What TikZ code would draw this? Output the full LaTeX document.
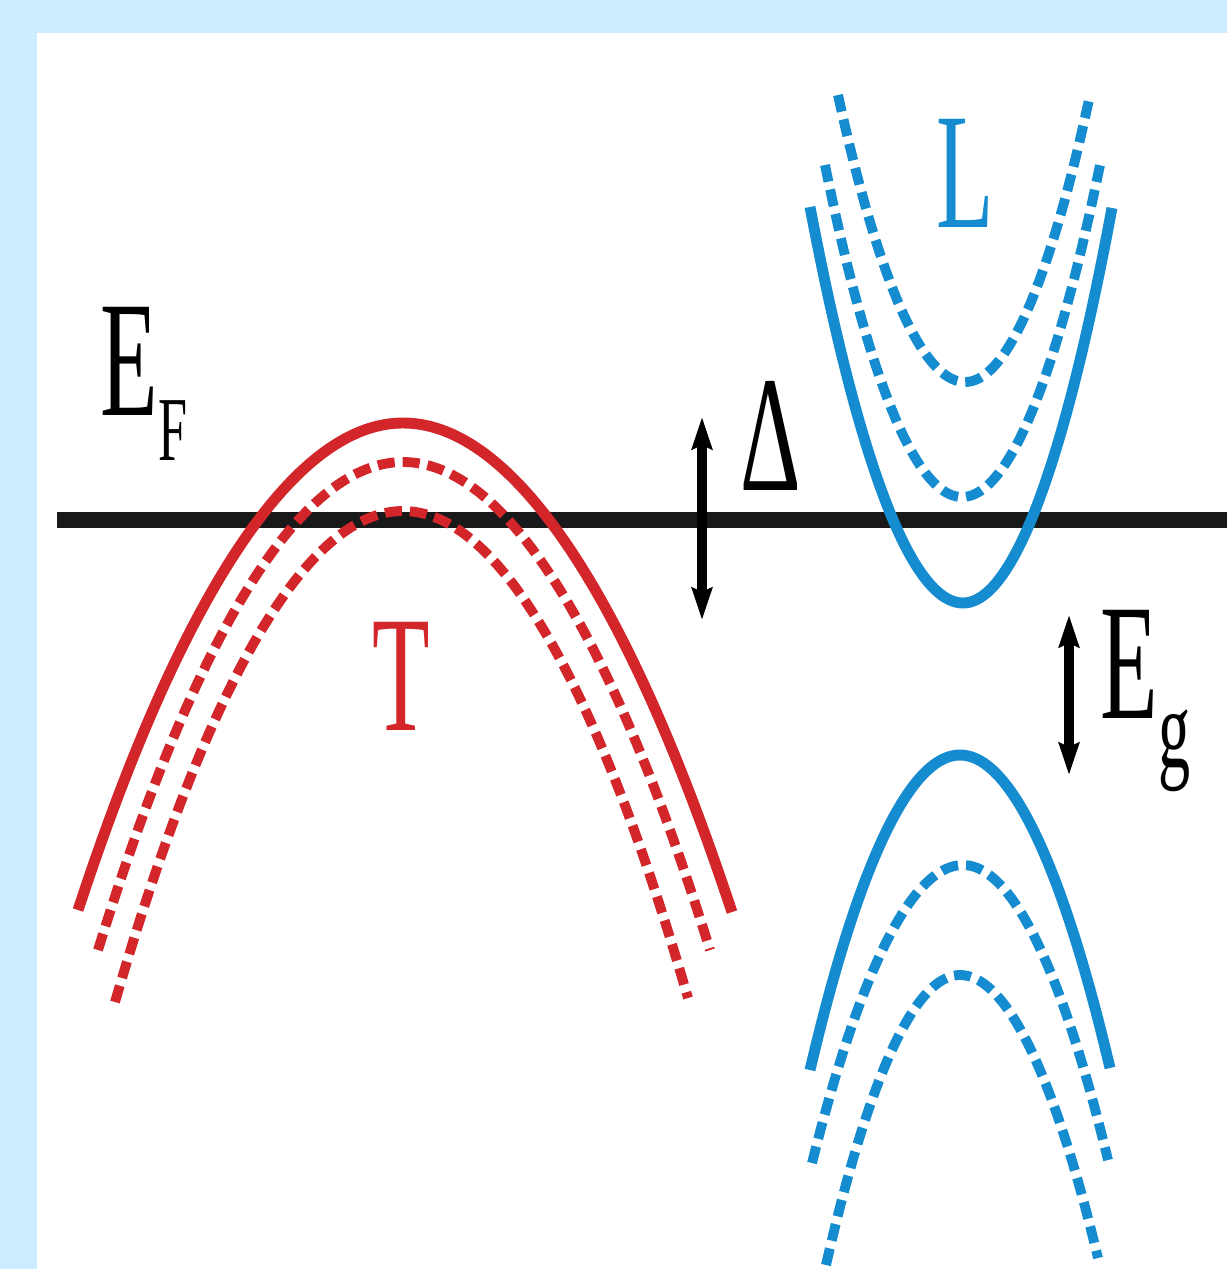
\documentclass[tikz,border=0pt]{standalone}
\usepackage{fontspec}
\setmainfont{Liberation Serif}
\usetikzlibrary{arrows.meta}
\definecolor{bandred}{RGB}{210,38,42}
\definecolor{bandblue}{RGB}{22,140,208}
\definecolor{framebg}{RGB}{204,236,255}
\newcommand{\squeeze}[1]{\scalebox{0.57}[1]{#1}}
\newcommand{\lowsub}[3]{\lower#1\hbox{\fontsize{#2}{#2}\selectfont #3}}

\begin{document}
\begin{tikzpicture}[x=0.01cm, y=-0.01cm,
    solidband/.style={line width=3.1pt},
    dashband/.style={line width=2.8pt, dash pattern=on 0.17cm off 0.08cm},
    lbl/.style={inner sep=0pt, font=\fontsize{47}{50}\selectfont},
    gaparr/.style={{Stealth[length=3.2mm,width=2mm,inset=0.4mm]}-{Stealth[length=3.2mm,width=2mm,inset=0.4mm]}, line width=2.8pt}
]
% frame
\fill[framebg] (0,0) rectangle (1227,1269);
\fill[white] (37,33) rectangle (1227,1269);
\useasboundingbox (0,0) rectangle (1227,1269);

% Fermi level
\coordinate (fl) at (57,520);
\coordinate (fr) at (1227,520);
\draw[line width=4.3pt, black!90] (fl) -- (fr);

% T band
\begin{scope}[bandred]
\draw[solidband] (78,910) parabola bend (403,423) (732,912);
\draw[dashband] (98,950) parabola bend (403,462) (710,950);
\draw[dashband] (115,1002) parabola bend (403,511) (688,998);
\end{scope}

% L bands (conduction and valence)
\begin{scope}[bandblue]
\draw[solidband] (810,207) parabola bend (963,603) (1112,208);
\draw[dashband] (825,165) parabola bend (962,497) (1100,165);
\draw[dashband] (838,95) parabola bend (965,382) (1090,95);
\draw[solidband] (810,1070) parabola bend (960,755) (1110,1068);
\draw[dashband] (812,1163) parabola bend (963,865) (1108,1160);
\draw[dashband] (826,1265) parabola bend (960,975) (1098,1258);
\end{scope}

% gaps
\coordinate (dtop) at (702,417);
\coordinate (dbot) at (702,620);
\draw[gaparr] (dbot) -- (dtop);
\coordinate (gtop) at (1069,615);
\coordinate (gbot) at (1069,775);
\draw[gaparr] (gbot) -- (gtop);

% labels
\node[lbl, anchor=base west] (ef) at (100,415) {\squeeze{E\lowsub{12.8pt}{26}{F}}};
\node[lbl, anchor=base west] (delta) at (740,490) {\squeeze{Δ}};
\node[lbl, anchor=base west] (eg) at (1100,718) {\squeeze{E\lowsub{14pt}{32}{g}}};
\node[lbl, anchor=base, bandred] (tlab) at (401,730) {\squeeze{T}};
\node[lbl, anchor=base, bandblue] (llab) at (965,227) {\squeeze{L}};
\end{tikzpicture}
\end{document}
